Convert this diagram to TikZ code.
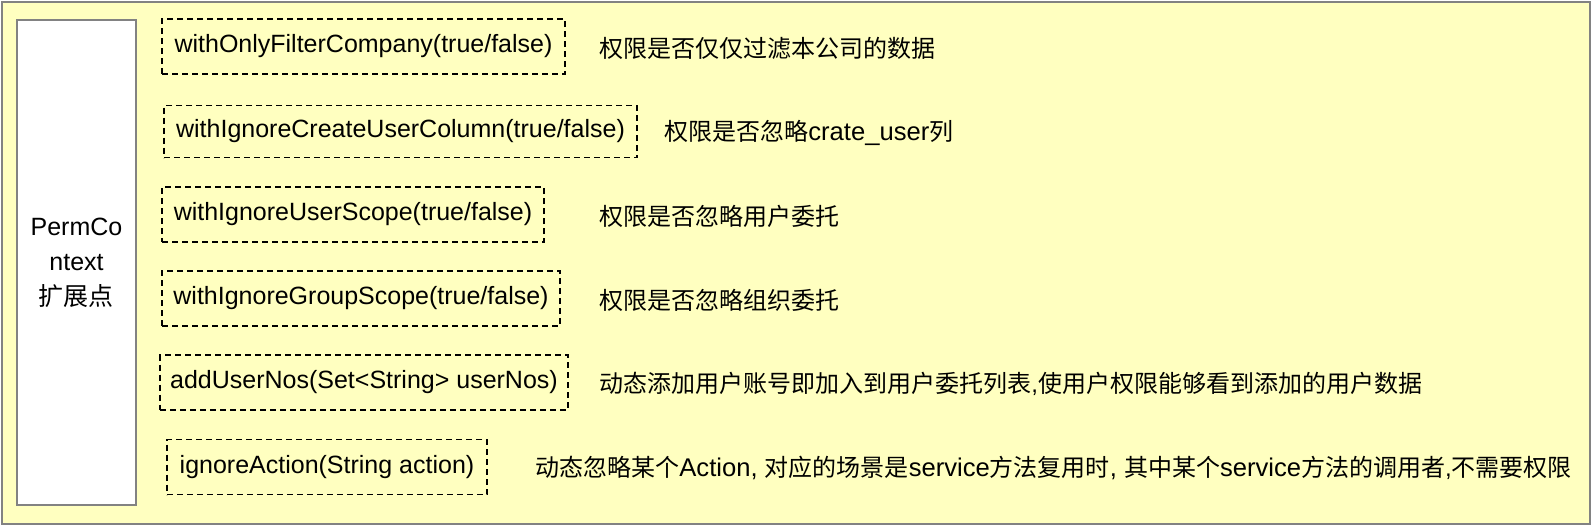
\documentclass[tikz,border=0pt]{standalone}
\usepackage{fontspec}
\setmainfont{Liberation Sans}
\newfontfamily\cjkfont{Noto Sans CJK SC}
\newcommand{\zh}[1]{{\cjkfont #1}}
\newcommand{\en}[1]{{\fontsize{12.8}{15}\selectfont #1}}
\usetikzlibrary{positioning}
\definecolor{notefill}{RGB}{255,255,192}
\definecolor{edgegray}{RGB}{130,130,130}

\tikzset{
  fnbox/.style={draw=black, dashed, dash pattern=on 3pt off 2pt, line width=0.9pt,
    minimum height=27.5pt, inner xsep=5pt, font=\fontsize{12.5}{15}\selectfont},
  desc/.style={anchor=west, inner sep=0pt, font=\fontsize{12}{15}\selectfont}
}

\begin{document}
\begin{tikzpicture}[x=0.5pt, y=-0.5pt]
  \useasboundingbox (0,0) rectangle (1592,526);

  % background note
  \draw[draw=edgegray, fill=notefill, line width=1pt] (2,2) rectangle (1590,524);

  % extension point
  \node[draw=edgegray, fill=white, line width=1pt, minimum width=59.5pt, minimum height=242.5pt,
        align=center, font=\fontsize{12.5}{17.5}\selectfont] (perm) at (76.5,262.5)
        {PermCo\\ntext\\\zh{扩展点}};

  % methods
  \node[fnbox, minimum width=201.5pt] (onlyco) at (363.5,46.5) {withOnlyFilterCompany(true/false)};
  \node[fnbox, minimum width=236.5pt, minimum height=26pt] (igncol) at (400.5,131.5) {withIgnoreCreateUserColumn(true/false)};
  \node[fnbox, minimum width=191pt] (ignuser) at (353,214.5) {withIgnoreUserScope(true/false)};
  \node[fnbox, minimum width=199pt] (igngroup) at (361,298.5) {withIgnoreGroupScope(true/false)};
  \node[fnbox, minimum width=202pt] (addnos) at (364,382.5) {addUserNos(Set<String> userNos)};
  \node[fnbox, minimum width=160pt] (ignact) at (327,467) {ignoreAction(String action)};

  % descriptions
  \node[desc] (d1) at (599,48) {\zh{权限是否仅仅过滤本公司的数据}};
  \node[desc] (d2) at (664,133) {\zh{权限是否忽略}\en{crate\_user}\zh{列}};
  \node[desc] (d3) at (599,216) {\zh{权限是否忽略用户委托}};
  \node[desc] (d4) at (599,300) {\zh{权限是否忽略组织委托}};
  \node[desc] (d5) at (599,384) {\zh{动态添加用户账号即加入到用户委托列表}{,}\zh{使用户权限能够看到添加的用户数据}};
  \node[desc] (d6) at (535,468) {\zh{动态忽略某个}\en{Action, }\zh{对应的场景是}\en{service}\zh{方法复用时}\en{, }\zh{其中某个}\en{service}\zh{方法的调用者}{,}\zh{不需要权限}};
\end{tikzpicture}
\end{document}
